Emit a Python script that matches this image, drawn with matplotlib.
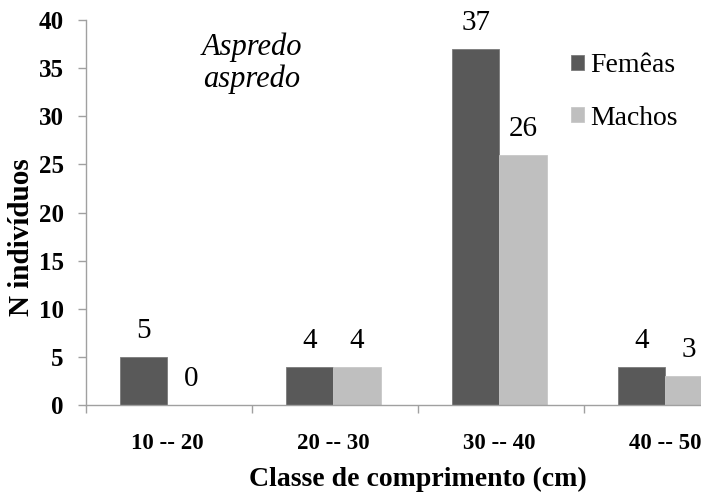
import matplotlib
matplotlib.use("Agg")
import matplotlib.pyplot as plt
import numpy as np

categories = ["10 -- 20", "20 -- 30", "30 -- 40", "40 -- 50"]
femeas = [5, 4, 37, 4]
machos = [0, 4, 26, 3]
series_names = ["Femêas", "Machos"]
yticks = [0, 5, 10, 15, 20, 25, 30, 35, 40]

plt.rcParams['font.family'] = ['Liberation Serif', 'DejaVu Serif']

W, H = 701, 493
fig = plt.figure(figsize=(W / 100, H / 100), dpi=100)
left = 86 / W
bottom = 1 - 405 / H
top = 1 - 20 / H
ax = fig.add_axes([left, bottom, 1 - left, top - bottom])

c_f = "#595959"
c_m = "#bfbfbf"
bw = 0.285
x = np.arange(len(categories)) + 0.49

bf = ax.bar(x - bw / 2, femeas, bw, color=c_f, edgecolor="#7a7a7a", linewidth=0.6, label=series_names[0])
bm = ax.bar(x + bw / 2, machos, bw, color=c_m, edgecolor="#c8c8c8", linewidth=0.6, label=series_names[1])

for rect, v in list(zip(bf, femeas)) + list(zip(bm, machos)):
    ax.annotate(str(v), (rect.get_x() + rect.get_width() / 2, v),
                xytext=(0, 18.5), textcoords="offset points",
                ha="center", va="center", fontsize=21, color="black")

ax.set_xlim(0, (W - 86) / 166)
ax.set_ylim(0, 40)
ax.set_yticks(yticks)
ax.set_yticklabels([str(t) for t in yticks], fontsize=18, fontweight="bold")
ax.set_xticks(np.arange(len(categories)) + 0.49)
ax.set_xticklabels(categories, fontsize=16.5, fontweight="bold")
ax.set_xticks([0, 1, 2, 3], minor=True)
ax.tick_params(axis="x", which="major", length=0, pad=20)
ax.tick_params(axis="x", which="minor", length=6, width=1, color="#a0a0a0", direction="out")
ax.tick_params(axis="y", length=6, width=1, color="#a0a0a0", direction="out", pad=10)
ax.get_xticklabels()[-1].set_x(3.475)

for s in ["top", "right"]:
    ax.spines[s].set_visible(False)
for s in ["left", "bottom"]:
    ax.spines[s].set_color("#a0a0a0")
    ax.spines[s].set_linewidth(1)

fig.text(22 / W, 1 - 237 / H, "N indivíduos", fontsize=21, fontweight="bold",
         rotation=90, ha="center", va="center")
fig.text(418 / W, 1 - 486 / H, "Classe de comprimento (cm)", fontsize=20,
         fontweight="bold", ha="center", va="baseline")

fig.text(252 / W, 1 - 63 / H, "Aspredo\naspredo", fontsize=22, style="italic",
         ha="center", va="center", linespacing=1.1)

leg = ax.legend(loc="upper left", bbox_to_anchor=(571 / W, 1 - 53 / H),
                bbox_transform=fig.transFigure, frameon=False, fontsize=20,
                handlelength=0.45, handleheight=0.45, handletextpad=0.25,
                labelspacing=1.0, borderaxespad=0, borderpad=0)

fig.savefig("out.png", dpi=100)
